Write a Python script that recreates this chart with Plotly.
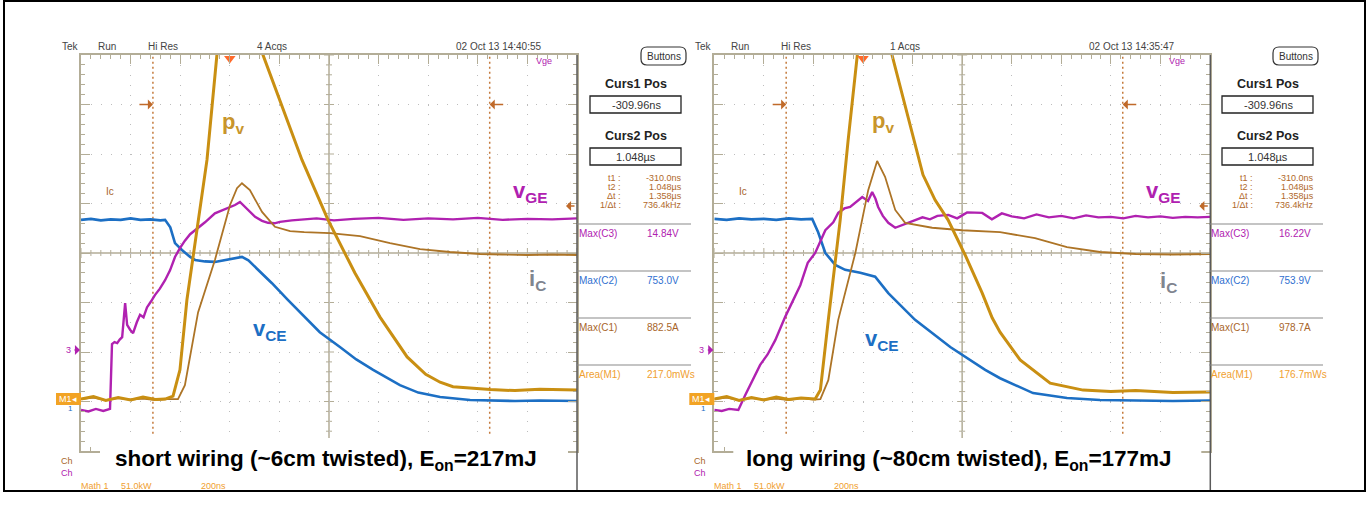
import plotly.graph_objects as go

W, H = 1372, 523

# ---------------- data: time in µs, vertical position in screen divisions ----------------
# left scope: short wiring
t_vce_s = [-0.600, -0.560, -0.520, -0.480, -0.440, -0.400, -0.360, -0.320, -0.280, -0.261, -0.240, -0.221,
           -0.193, -0.160, -0.140, -0.100, -0.060, -0.020, 0.021, 0.049, 0.075, 0.102, 0.136, 0.170, 0.235,
           0.303, 0.363, 0.444, 0.510, 0.578, 0.686, 0.760, 0.848, 0.969, 1.050, 1.150, 1.250, 1.400]
vce_s = [0.67, 0.69, 0.66, 0.68, 0.67, 0.70, 0.67, 0.68, 0.66, 0.67, 0.52, 0.20,
         0.06, -0.08, -0.14, -0.17, -0.18, -0.14, -0.10, -0.08, -0.15, -0.28, -0.45, -0.61, -0.95,
         -1.29, -1.60, -1.90, -2.15, -2.36, -2.67, -2.82, -2.91, -2.97, -2.98, -2.99, -2.98, -2.99]

t_vge_s = [-0.600, -0.570, -0.540, -0.510, -0.483, -0.475, -0.465, -0.454, -0.444, -0.434, -0.422, -0.414,
           -0.402, -0.390, -0.375, -0.362, -0.348, -0.334, -0.318, -0.302, -0.282, -0.261, -0.241, -0.221,
           -0.201, -0.181, -0.160, -0.140, -0.100, -0.060, -0.020, 0.021, 0.041, 0.061, 0.080, 0.102, 0.130,
           0.154, 0.180, 0.202, 0.250, 0.283, 0.350, 0.420, 0.500, 0.600, 0.700, 0.800, 0.900, 1.000, 1.100,
           1.200, 1.300, 1.400]
vge_s = [-3.17, -3.20, -3.15, -3.19, -3.15, -1.84, -1.80, -1.82, -1.75, -1.70, -1.01, -1.45,
         -1.55, -1.62, -1.40, -1.25, -1.30, -1.10, -0.98, -0.85, -0.72, -0.55, -0.35, -0.08,
         0.10, 0.25, 0.38, 0.46, 0.62, 0.80, 0.88, 0.97, 1.03, 0.93, 0.85, 0.73, 0.65,
         0.61, 0.60, 0.63, 0.66, 0.67, 0.70, 0.66, 0.69, 0.71, 0.67, 0.70, 0.68, 0.71, 0.67,
         0.69, 0.68, 0.70]

t_pv_s = [-0.600, -0.550, -0.500, -0.450, -0.400, -0.350, -0.300, -0.261, -0.229, -0.201, -0.173, -0.132,
          -0.092, -0.052, 0.000, 0.041, 0.090, 0.134, 0.222, 0.291, 0.396, 0.504, 0.605, 0.715, 0.790,
          0.848, 0.900, 0.969, 1.050, 1.150, 1.250, 1.400]
pv_s = [-2.95, -2.90, -2.98, -2.92, -2.97, -2.91, -2.96, -2.95, -2.89, -2.36, -0.95, 0.46,
        1.88, 4.00, 5.60, 6.10, 5.40, 4.00, 2.79, 1.88, 0.67, -0.40, -1.29, -2.10, -2.45,
        -2.61, -2.70, -2.73, -2.76, -2.78, -2.75, -2.77]

t_ic_s = [-0.600, -0.550, -0.500, -0.450, -0.400, -0.350, -0.300, -0.250, -0.209, -0.181, -0.128, -0.060,
          0.001, 0.029, 0.049, 0.081, 0.130, 0.182, 0.243, 0.300, 0.404, 0.525, 0.646, 0.767, 0.888,
          1.009, 1.100, 1.200, 1.300, 1.400]
ic_s = [-2.95, -2.92, -2.97, -2.93, -2.96, -2.94, -2.97, -2.95, -2.95, -2.67, -1.20, -0.14,
        0.97, 1.31, 1.41, 1.27, 0.83, 0.53, 0.44, 0.42, 0.40, 0.34, 0.20, 0.08, 0.02,
        -0.02, -0.03, -0.04, -0.03, -0.04]

# right scope: long wiring
t_vce_l = [-0.600, -0.550, -0.500, -0.450, -0.400, -0.350, -0.300, -0.250, -0.205, -0.181, -0.152, -0.112,
           -0.072, -0.011, 0.049, 0.102, 0.210, 0.352, 0.493, 0.553, 0.686, 0.823, 0.956, 1.100, 1.250, 1.400]
vce_l = [0.69, 0.67, 0.70, 0.68, 0.69, 0.67, 0.70, 0.68, 0.69, 0.42, 0.00, -0.24,
         -0.34, -0.40, -0.48, -0.81, -1.35, -1.90, -2.36, -2.53, -2.83, -2.93, -2.97, -2.98, -2.99, -2.98]

t_vge_l = [-0.600, -0.570, -0.540, -0.503, -0.475, -0.445, -0.415, -0.385, -0.354, -0.314, -0.283, -0.253,
           -0.223, -0.193, -0.152, -0.120, -0.100, -0.075, -0.052, -0.025, -0.003, 0.020, 0.037, 0.050,
           0.061, 0.080, 0.102, 0.130, 0.150, 0.170, 0.190, 0.210, 0.240, 0.270, 0.300, 0.344, 0.380,
           0.420, 0.481, 0.520, 0.560, 0.600, 0.650, 0.700, 0.750, 0.800, 0.850, 0.900, 0.950, 1.000,
           1.050, 1.100, 1.150, 1.200, 1.250, 1.300, 1.350, 1.400]
vge_l = [-3.17, -3.19, -3.15, -3.17, -2.87, -2.55, -2.26, -2.05, -1.76, -1.29, -0.95, -0.65,
         -0.20, 0.00, 0.46, 0.62, 0.81, 0.90, 0.93, 1.05, 1.13, 1.05, 1.23, 1.10,
         0.93, 0.75, 0.61, 0.51, 0.55, 0.59, 0.62, 0.67, 0.72, 0.68, 0.75, 0.77, 0.70,
         0.82, 0.81, 0.68, 0.80, 0.74, 0.70, 0.78, 0.72, 0.75, 0.70, 0.76, 0.72, 0.73,
         0.70, 0.75, 0.72, 0.74, 0.71, 0.73, 0.72, 0.73]

t_pv_l = [-0.600, -0.550, -0.500, -0.450, -0.400, -0.350, -0.300, -0.250, -0.193, -0.172, -0.140, -0.092,
          -0.060, -0.023, 0.030, 0.075, 0.117, 0.178, 0.242, 0.291, 0.343, 0.412, 0.481, 0.521, 0.553,
          0.634, 0.755, 0.888, 1.000, 1.100, 1.250, 1.400]
pv_l = [-2.95, -2.90, -2.98, -2.92, -2.97, -2.91, -2.96, -2.93, -2.95, -2.77, -1.35, 0.67,
        2.28, 4.00, 5.30, 5.30, 4.00, 2.79, 1.58, 1.07, 0.67, -0.04, -0.81, -1.31, -1.60,
        -2.16, -2.63, -2.77, -2.80, -2.78, -2.82, -2.81]

t_ic_l = [-0.600, -0.550, -0.500, -0.450, -0.400, -0.350, -0.300, -0.250, -0.200, -0.172, -0.140, -0.100,
          -0.031, 0.021, 0.057, 0.089, 0.130, 0.170, 0.279, 0.400, 0.553, 0.694, 0.823, 0.956, 1.100,
          1.250, 1.400]
ic_l = [-2.95, -2.92, -2.97, -2.93, -2.96, -2.94, -2.97, -2.93, -2.96, -2.95, -2.57, -1.35,
        0.00, 1.27, 1.86, 1.54, 0.87, 0.61, 0.51, 0.46, 0.42, 0.30, 0.12, 0.02, -0.02,
        -0.03, -0.02]

cursor_times = [-0.310, 1.048]
captions = ["short wiring (~6cm twisted), E<sub>on</sub>=217mJ",
            "long wiring (~80cm twisted), E<sub>on</sub>=177mJ"]
acqs = ["4 Acqs", "1 Acqs"]
stamps = ["02 Oct 13 14:40:55", "02 Oct 13 14:35:47"]
meas_labels = ["Max(C3)", "Max(C2)", "Max(C1)", "Area(M1)"]
meas_values = [["14.84V", "753.0V", "882.5A", "217.0mWs"],
               ["16.22V", "753.9V", "978.7A", "176.7mWs"]]
curs_labels = ["t1 :", "t2 :", "Δt :", "1/Δt :"]
curs_values = ["-310.0ns", "1.048µs", "1.358µs", "736.4kHz"]

# ---------------- styling ----------------
C_VCE = "#1c6fc4"
C_VGE = "#b021b0"
C_PV = "#c98f12"
C_IC = "#ad7426"
GRAT = "#b3ad97"
C_CUR = "#c06a2a"
NARROW = "Liberation Sans Narrow, Arial Narrow, Liberation Sans, Arial"
SANS = "Liberation Sans, Arial, Helvetica"

fig = go.Figure()

series = [
    [(t_vce_s, vce_s, C_VCE, 2.6), (t_vge_s, vge_s, C_VGE, 2.4), (t_ic_s, ic_s, C_IC, 1.8), (t_pv_s, pv_s, C_PV, 3.0)],
    [(t_vce_l, vce_l, C_VCE, 2.6), (t_vge_l, vge_l, C_VGE, 2.4), (t_ic_l, ic_l, C_IC, 1.8), (t_pv_l, pv_l, C_PV, 3.0)],
]
axes = [("x", "y"), ("x2", "y2")]
for (xa, ya), group in zip(axes, series):
    for tx, vy, col, w in group:
        fig.add_trace(go.Scatter(x=tx, y=vy, mode="lines", xaxis=xa, yaxis=ya,
                                 line=dict(color=col, width=w), hoverinfo="skip", showlegend=False))
    # trigger marker
    fig.add_trace(go.Scatter(x=[0], y=[3.93], mode="markers", xaxis=xa, yaxis=ya, cliponaxis=False,
                             marker=dict(symbol="triangle-down", size=10, color="#ff6a2a"),
                             hoverinfo="skip", showlegend=False))

YD = [(H - 451) / H, (H - 55) / H]
XD = [[81 / W, 577 / W], [714.3 / W, 1210 / W]]


def ax(domain, anchor, dtick, minor_dtick, rng):
    return dict(domain=domain, anchor=anchor, range=rng, showticklabels=False, showline=True,
                linecolor=GRAT, linewidth=1.5, mirror="ticks", ticks="inside", ticklen=9,
                tickcolor=GRAT, tickwidth=1, dtick=dtick, tick0=rng[0], showgrid=True,
                gridcolor="#bdbdbd", griddash="1px,8.9px", gridwidth=1.3, zeroline=False,
                fixedrange=True,
                minor=dict(ticks="inside", ticklen=4, tickcolor=GRAT, dtick=minor_dtick,
                           tick0=rng[0], showgrid=False))


fig.update_layout(
    width=W, height=H, margin=dict(l=0, r=0, t=0, b=0),
    paper_bgcolor="white", plot_bgcolor="white", showlegend=False,
    xaxis=ax(XD[0], "y", 0.2, 0.04, [-0.6, 1.4]),
    yaxis=ax(YD, "x", 1, 0.2, [-4, 4]),
    xaxis2=ax(XD[1], "y2", 0.2, 0.04, [-0.6, 1.4]),
    yaxis2=ax(YD, "x2", 1, 0.2, [-4, 4]),
)

shapes = []
# center crosshair with ticks
for xa, ya in axes:
    shapes.append(dict(type="line", xref=xa, yref=ya, x0=-0.6, x1=1.4, y0=0, y1=0,
                       line=dict(color=GRAT, width=1.5), layer="below"))
    shapes.append(dict(type="line", xref=xa, yref=ya, x0=0.4, x1=0.4, y0=-4, y1=4,
                       line=dict(color=GRAT, width=1.5), layer="below"))
    for k in range(51):
        xv = -0.6 + k * 0.04
        L = 5 if k % 5 == 0 else 3
        shapes.append(dict(type="line", xref=xa, yref=ya, ysizemode="pixel", yanchor=0,
                           x0=xv, x1=xv, y0=-L, y1=L, line=dict(color=GRAT, width=1), layer="below"))
    for k in range(41):
        yv = -4 + k * 0.2
        L = 5 if k % 5 == 0 else 3
        shapes.append(dict(type="line", xref=xa, yref=ya, xsizemode="pixel", xanchor=0.4,
                           y0=yv, y1=yv, x0=-L, x1=L, line=dict(color=GRAT, width=1), layer="below"))
    # cursors
    for ct in cursor_times:
        shapes.append(dict(type="line", xref=xa, yref=ya, x0=ct, x1=ct, y0=-3.65, y1=4,
                           line=dict(color="#c47a3c", width=1.5, dash="2px,3px"), layer="below"))


def pxs(x):
    return x / W


def pys(y):
    return 1 - y / H


def rect(x0, y0, x1, y1, line="#000", lw=1, fill=None, layer="above"):
    d = dict(type="rect", xref="paper", yref="paper", x0=pxs(x0), x1=pxs(x1), y0=pys(y0), y1=pys(y1),
             line=dict(color=line, width=lw), layer=layer)
    if fill:
        d["fillcolor"] = fill
    if lw == 0:
        d["line"] = dict(width=0)
    shapes.append(d)


def hline(x0, x1, y, color, lw=1):
    shapes.append(dict(type="line", xref="paper", yref="paper", x0=pxs(x0), x1=pxs(x1), y0=pys(y), y1=pys(y),
                       line=dict(color=color, width=lw)))


def vline(x, y0, y1, color, lw=1):
    shapes.append(dict(type="line", xref="paper", yref="paper", x0=pxs(x), x1=pxs(x), y0=pys(y0), y1=pys(y1),
                       line=dict(color=color, width=lw)))


def rounded(x0, y0, x1, y1, r):
    p = (f"M {pxs(x0 + r)},{pys(y0)} L {pxs(x1 - r)},{pys(y0)} Q {pxs(x1)},{pys(y0)} {pxs(x1)},{pys(y0 + r)} "
         f"L {pxs(x1)},{pys(y1 - r)} Q {pxs(x1)},{pys(y1)} {pxs(x1 - r)},{pys(y1)} "
         f"L {pxs(x0 + r)},{pys(y1)} Q {pxs(x0)},{pys(y1)} {pxs(x0)},{pys(y1 - r)} "
         f"L {pxs(x0)},{pys(y0 + r)} Q {pxs(x0)},{pys(y0)} {pxs(x0 + r)},{pys(y0)} Z")
    shapes.append(dict(type="path", xref="paper", yref="paper", path=p, line=dict(color="#333", width=1.2)))


ann = []


def txt(x, y, s, size=10, color="#444", xanchor="center", family=NARROW, bold=False):
    if bold:
        s = f"<b>{s}</b>"
    ann.append(dict(x=pxs(x), y=pys(y), xref="paper", yref="paper", text=s, showarrow=False,
                    xanchor=xanchor, yanchor="middle", borderpad=0,
                    font=dict(size=size, color=color, family=family)))


def dtxt(xa, ya, t, v, s, size=22, color="#000"):
    ann.append(dict(x=t, y=v, xref=xa, yref=ya, text=f"<b>{s}</b>", showarrow=False,
                    xanchor="center", yanchor="middle", font=dict(size=size, color=color, family=SANS)))


def arrow(xref, yref, x, y, axpx, color=C_CUR):
    ann.append(dict(x=x, y=y, xref=xref, yref=yref, text="", showarrow=True, ax=axpx, ay=0,
                    arrowhead=1, arrowsize=1.3, arrowwidth=1.3, arrowcolor=color, standoff=0))


# outer border
rect(4, 1, 1365, 491, line="#000", lw=2, layer="below")

for i, (xa, ya) in enumerate(axes):
    off = 0 if i == 0 else 633.3
    soff = 0 if i == 0 else 632
    # right edge divider of scope screen
    vline(577 + off, 55, 490, "#5a5a5a", 1.5)
    # caption white box
    rect(100 + off, 438, 568 + off, 481, lw=0, fill="white")
    # header row
    txt(70 + off, 47, "Tek")
    txt(107 + off, 47, "Run")
    txt(163 + off, 47, "Hi Res")
    txt(272 + off, 47, acqs[i])
    txt(499 + off, 47, stamps[i])
    txt(544 + off, 61, "Vge", size=9, color=C_VGE)
    # cursor arrows
    arrow(xa, ya, cursor_times[0], 3.0, -15)
    arrow(xa, ya, cursor_times[1], 3.0, 15)
    arrow("paper", "paper", pxs(566 + off), pys(206), 10)
    # channel markers at left
    txt(68 + off, 350, "3", size=9, color=C_VGE)
    arrow("paper", "paper", pxs(80 + off), pys(350), -7, C_VGE)
    rect(56 + off, 393, 81 + off, 405, lw=0, fill="#f2a324")
    txt(68 + off, 399, "M1◂", size=9, color="white")
    txt(70 + off, 408, "1", size=8, color=C_VCE)
    txt(110 + off, 191, "Ic", size=10, color="#a8652a")
    # bottom readouts
    txt(60 + off, 461, "Ch", size=9, color="#a8652a", xanchor="left")
    txt(60 + off, 473, "Ch", size=9, color=C_VGE, xanchor="left")
    txt(80 + off, 486, "Math 1     51.0kW", size=9, color="#f0a030", xanchor="left")
    txt(200 + off, 486, "200ns", size=9, color="#f0a030", xanchor="left")
    # signal labels
    lbl = [(0.013, 2.63) if i == 0 else (0.081, 2.65),
           (1.211, 1.23),
           (1.239, -0.55) if i == 0 else (1.231, -0.59),
           (0.162, -1.56) if i == 0 else (0.077, -1.76)]
    dtxt(xa, ya, *lbl[0], "p<sub>v</sub>", 22, "#c8952c")
    dtxt(xa, ya, *lbl[1], "v<sub>GE</sub>", 22, C_VGE)
    dtxt(xa, ya, *lbl[2], "i<sub>C</sub>", 22, "#80858f")
    dtxt(xa, ya, *lbl[3], "v<sub>CE</sub>", 22, C_VCE)
    # caption
    txt(326 + off, 460, captions[i], size=22.5, color="#000", family=SANS, bold=True)

    # side panel
    rounded(641 + soff, 47, 686 + soff, 65, 6)
    txt(663.5 + soff, 56, "Buttons", size=10, color="#333")
    txt(636 + soff, 84, "Curs1 Pos", size=12.5, color="#222", family=SANS, bold=True)
    rect(590 + soff, 96, 681 + soff, 113, line="#222", lw=1.3)
    txt(636 + soff, 104.5, "-309.96ns", size=11, color="#333")
    txt(636 + soff, 136, "Curs2 Pos", size=12.5, color="#222", family=SANS, bold=True)
    rect(590 + soff, 148, 681 + soff, 165, line="#222", lw=1.3)
    txt(636 + soff, 156.5, "1.048µs", size=11, color="#333")
    for k, (lab, val) in enumerate(zip(curs_labels, curs_values)):
        yy = 177.5 + k * 9.3
        txt(622 + soff, yy, lab, size=9, color="#b0682a", xanchor="right")
        txt(683 + soff, yy, val, size=9, color="#b0682a", xanchor="right")
    mcols = [C_VGE, "#2f6fd0", "#a8652a", "#f0a030"]
    for k in range(4):
        hline(577 + soff, 691 + soff, 224 + k * 47, "#8a8a8a", 1.2)
        txt(578 + soff, 233 + k * 47, meas_labels[k], size=10, color=mcols[k], xanchor="left")
        txt(646 + soff, 233 + k * 47, meas_values[i][k], size=10, color=mcols[k], xanchor="left")

fig.update_layout(shapes=shapes, annotations=ann)
fig.write_html("out.html")
